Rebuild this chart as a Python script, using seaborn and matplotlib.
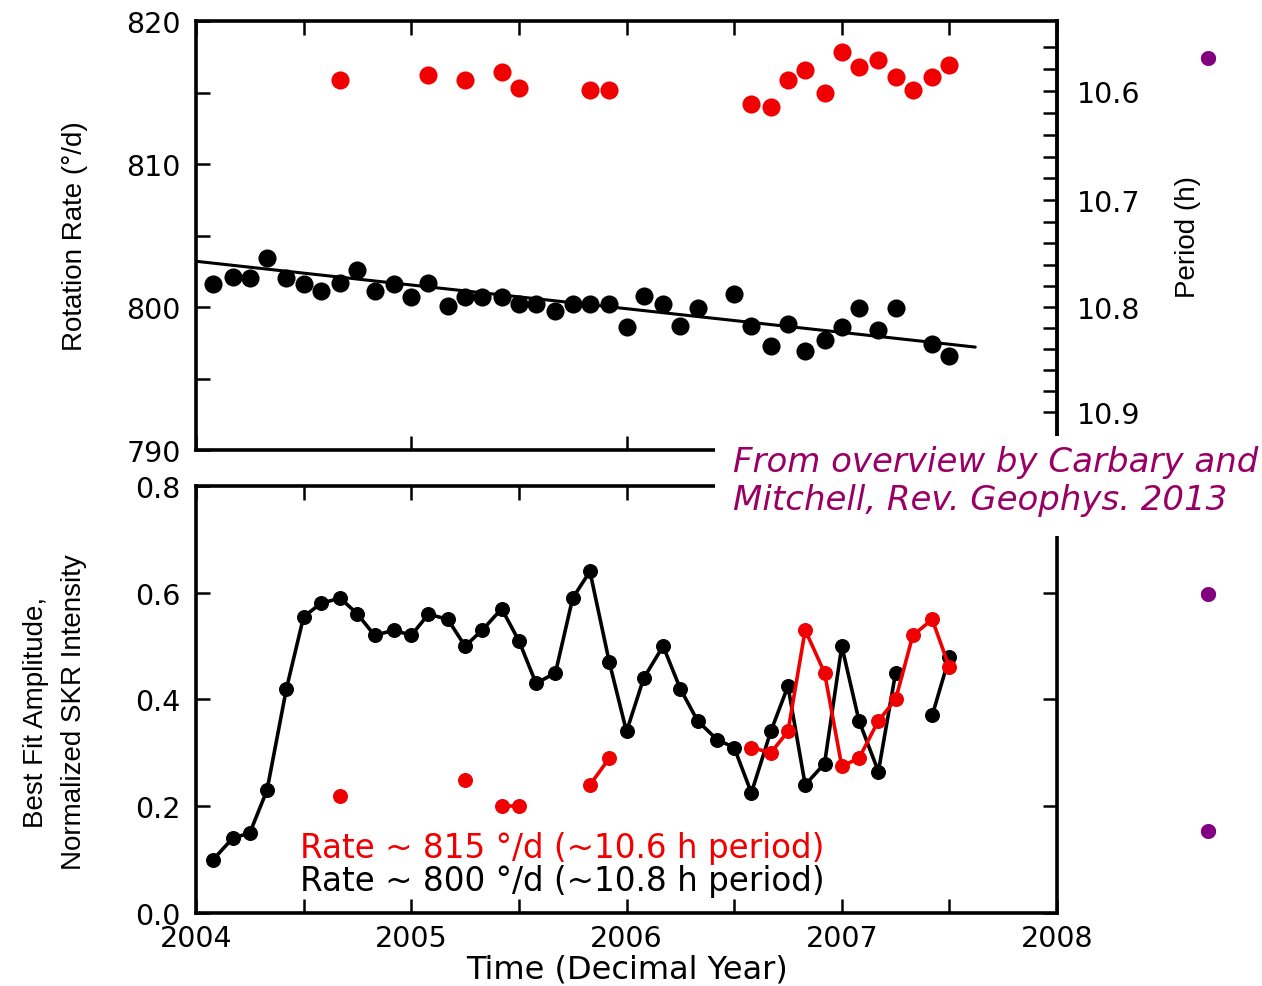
import numpy as np
import pandas as pd
import matplotlib.pyplot as plt
import seaborn as sns
from matplotlib.ticker import MultipleLocator, FixedLocator
from matplotlib.patches import Rectangle

sns.set_style("ticks")
plt.rcParams["font.family"] = ["DejaVu Sans"]
plt.rcParams["text.color"] = "black"
plt.rcParams["axes.labelcolor"] = "black"
plt.rcParams["xtick.color"] = "black"
plt.rcParams["ytick.color"] = "black"

# -----------------------------------
# Data
# -----------------------------------
# top panel: rotation rate (deg/day)
rate_black_years = [2004.08, 2004.17, 2004.25, 2004.33, 2004.42, 2004.50, 2004.58, 2004.67,
                    2004.75, 2004.83, 2004.92, 2005.00, 2005.08, 2005.17, 2005.25, 2005.33,
                    2005.42, 2005.50, 2005.58, 2005.67, 2005.75, 2005.83, 2005.92, 2006.00,
                    2006.08, 2006.17, 2006.25, 2006.33, 2006.50, 2006.58, 2006.67, 2006.75,
                    2006.83, 2006.92, 2007.00, 2007.08, 2007.17, 2007.25, 2007.42, 2007.50]
rate_black = [801.6, 802.1, 802.0, 803.4, 802.0, 801.6, 801.1, 801.7,
              802.6, 801.1, 801.6, 800.7, 801.7, 800.1, 800.7, 800.7,
              800.7, 800.2, 800.2, 799.7, 800.2, 800.2, 800.2, 798.6,
              800.8, 800.2, 798.7, 799.9, 800.9, 798.7, 797.3, 798.8,
              796.9, 797.7, 798.6, 799.9, 798.4, 799.9, 797.4, 796.6]

rate_red_years = [2004.67, 2005.08, 2005.25, 2005.42, 2005.50, 2005.83, 2005.92,
                  2006.58, 2006.67, 2006.75, 2006.83, 2006.92, 2007.00, 2007.08,
                  2007.17, 2007.25, 2007.33, 2007.42, 2007.50]
rate_red = [815.9, 816.2, 815.9, 816.4, 815.3, 815.2, 815.2,
            814.2, 814.0, 815.9, 816.6, 815.0, 817.8, 816.8,
            817.3, 816.1, 815.2, 816.1, 816.9]

# linear trend drawn in the original
fit_years = [2004.0, 2007.62]
fit_rate = [803.2, 797.2]

# right axis: period (h)
period_ticks = [10.6, 10.7, 10.8, 10.9]
period_minor = [10.56, 10.58, 10.62, 10.64, 10.66, 10.68, 10.72, 10.74, 10.76,
                10.78, 10.82, 10.84, 10.86, 10.88]

# bottom panel: best fit amplitude (nan = gap in the line)
amp_black_years = [2004.08, 2004.17, 2004.25, 2004.33, 2004.42, 2004.50, 2004.58, 2004.67,
                   2004.75, 2004.83, 2004.92, 2005.00, 2005.08, 2005.17, 2005.25, 2005.33,
                   2005.42, 2005.50, 2005.58, 2005.67, 2005.75, 2005.83, 2005.92, 2006.00,
                   2006.08, 2006.17, 2006.25, 2006.33, 2006.42, 2006.50, 2006.58, 2006.67,
                   2006.75, 2006.83, 2006.92, 2007.00, 2007.08, 2007.17, 2007.25, 2007.33,
                   2007.42, 2007.50]
amp_black = [0.10, 0.14, 0.15, 0.23, 0.42, 0.555, 0.58, 0.59,
             0.56, 0.52, 0.53, 0.52, 0.56, 0.55, 0.50, 0.53,
             0.57, 0.51, 0.43, 0.45, 0.59, 0.64, 0.47, 0.34,
             0.44, 0.50, 0.42, 0.36, 0.325, 0.31, 0.225, 0.34,
             0.425, 0.24, 0.28, 0.50, 0.36, 0.265, 0.45, np.nan,
             0.37, 0.48]

amp_red_years = [2004.67, 2004.75, 2005.25, 2005.33, 2005.42, 2005.50, 2005.58,
                 2005.83, 2005.92, 2006.00, 2006.58, 2006.67, 2006.75, 2006.83,
                 2006.92, 2007.00, 2007.08, 2007.17, 2007.25, 2007.33, 2007.42, 2007.50]
amp_red = [0.22, np.nan, 0.25, np.nan, 0.20, 0.20, np.nan,
           0.24, 0.29, np.nan, 0.31, 0.30, 0.34, 0.53,
           0.45, 0.275, 0.29, 0.36, 0.40, 0.52, 0.55, 0.46]

RED = "#f00000"
PURPLE = "#990066"
TICK_FS = 20.5


def segments(years, values):
    # split a series at nan values so that each piece is drawn as its own line
    df = pd.DataFrame({"year": years, "value": values})
    df["seg"] = df["value"].isna().cumsum()
    return df.dropna()


def style_axes(ax):
    for sp in ax.spines.values():
        sp.set_linewidth(2.6)
        sp.set_color("black")
    ax.tick_params(which="both", direction="in", length=10, width=1.8,
                   labelsize=TICK_FS, colors="black")


fig = plt.figure(figsize=(12.62, 9.87), dpi=100)
ax_top = fig.add_axes([0.1553, 0.543, 0.6823, 0.4347])
ax_bot = fig.add_axes([0.1553, 0.074, 0.6823, 0.4326])

# -----------------------------------
# Top panel
# -----------------------------------
sns.lineplot(x=fit_years, y=fit_rate, color="black", linewidth=2.2, ax=ax_top)
sns.scatterplot(x=rate_black_years, y=rate_black, color="black", s=170,
                linewidth=0, ax=ax_top, zorder=3)
sns.scatterplot(x=rate_red_years, y=rate_red, color=RED, s=170,
                linewidth=0, ax=ax_top, zorder=3)

ax_top.set_xlim(2004, 2008)
ax_top.set_ylim(790, 820)
style_axes(ax_top)
ax_top.yaxis.set_major_locator(MultipleLocator(10))
ax_top.yaxis.set_minor_locator(MultipleLocator(5))
ax_top.xaxis.set_major_locator(MultipleLocator(1))
ax_top.xaxis.set_minor_locator(MultipleLocator(0.5))
ax_top.tick_params(which="both", left=True, right=False, top=True, bottom=True,
                   labelbottom=False, pad=11)
ax_top.tick_params(which="minor", bottom=False)
ax_top.set_ylabel("Rotation Rate (°/d)", fontsize=20, family=["Liberation Sans"])
ax_top.yaxis.label.set_verticalalignment("center")
ax_top.yaxis.set_label_coords(-0.1405, 0.5)

sec = ax_top.secondary_yaxis("right", functions=(lambda r: 8640.0 / r, lambda p: 8640.0 / p))
sec.set_yticks(period_ticks)
sec.set_yticklabels([f"{p:.1f}" for p in period_ticks])
sec.yaxis.set_minor_locator(FixedLocator(period_minor))
sec.tick_params(which="both", direction="in", length=10, width=1.8,
                labelsize=TICK_FS, pad=14, colors="black")
sec.spines["right"].set_linewidth(2.6)
sec.set_ylabel("Period (h)", fontsize=20, family=["Liberation Sans"])
sec.yaxis.label.set_verticalalignment("center")
sec.yaxis.label.set_rotation(90)
sec.yaxis.set_label_coords(1.152, 0.5, transform=ax_top.transAxes)

# -----------------------------------
# Bottom panel
# -----------------------------------
black_df = segments(amp_black_years, amp_black)
red_df = segments(amp_red_years, amp_red)
sns.lineplot(data=black_df, x="year", y="value", units="seg", estimator=None,
             color="black", linewidth=2.6, marker="o", markersize=10,
             markeredgecolor="black", ax=ax_bot, zorder=3)
sns.lineplot(data=red_df, x="year", y="value", units="seg", estimator=None,
             color=RED, linewidth=2.6, marker="o", markersize=10,
             markeredgecolor=RED, ax=ax_bot, zorder=4)

ax_bot.set_xlim(2004, 2008)
ax_bot.set_ylim(0, 0.8)
style_axes(ax_bot)
ax_bot.xaxis.set_major_locator(MultipleLocator(1))
ax_bot.xaxis.set_minor_locator(MultipleLocator(0.5))
ax_bot.yaxis.set_major_locator(MultipleLocator(0.2))
ax_bot.yaxis.set_major_formatter(plt.FormatStrFormatter("%.1f"))
ax_bot.tick_params(which="both", left=True, right=True, top=True, bottom=True)
ax_bot.tick_params(axis="y", pad=11)
ax_bot.tick_params(axis="x", pad=8)
ax_bot.set_xlabel("Time (Decimal Year)", fontsize=23)
ax_bot.xaxis.label.set_verticalalignment("center")
ax_bot.xaxis.set_label_coords(0.5, -0.131)
ax_bot.set_ylabel("Best Fit Amplitude,\nNormalized SKR Intensity", fontsize=20,
                  family=["Liberation Sans"], linespacing=1.6)
ax_bot.yaxis.label.set_verticalalignment("center")
ax_bot.yaxis.set_label_coords(-0.164, 0.473)

ax_bot.text(0.121, 0.153, "Rate ~ 815 °/d (~10.6 h period)", color=RED,
            fontsize=23.5, va="center", transform=ax_bot.transAxes)
ax_bot.text(0.121, 0.077, "Rate ~ 800 °/d (~10.8 h period)", color="black",
            fontsize=23.5, va="center", transform=ax_bot.transAxes)

# -----------------------------------
# Slide overlay: citation box and bullets
# -----------------------------------
fig.add_artist(Rectangle((0.5666, 0.4559), 0.4334, 0.1013, transform=fig.transFigure,
                         facecolor="white", edgecolor="none", zorder=5))
fig.text(0.5808, 0.5122, "From overview by Carbary and\nMitchell, Rev. Geophys. 2013",
         color=PURPLE, fontsize=24.5, style="italic", ha="left", va="center",
         linespacing=1.2, zorder=6)
for yb in [0.9362, 0.3932, 0.153]:
    fig.text(0.957, yb, "•", color="#800080", fontsize=38, ha="center", va="center")

fig.savefig("out.png", dpi=100)
